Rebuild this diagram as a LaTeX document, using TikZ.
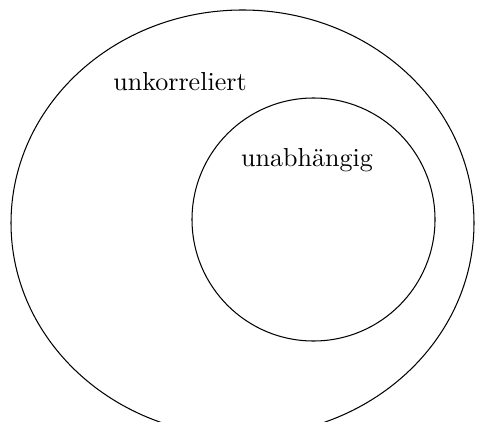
\documentclass[tikz,border=0pt]{standalone}
\begin{document}
\begin{tikzpicture}[
    x=0.01351cm, y=-0.01351cm,
    setlbl/.style={font=\normalsize, inner sep=0pt}
]

% Rahmen
\clip (0, 0) rectangle (486, 421);

% Mengen
\draw (242.5, 223) ellipse [x radius=231.5, y radius=213];
\draw (313.5, 219.5) circle [radius=121.5];

% Beschriftungen
\node[setlbl] (unkorr) at (180, 82) {unkorreliert};
\node[setlbl] (unabh) at (307, 160) {unabhängig};

\end{tikzpicture}
\end{document}
